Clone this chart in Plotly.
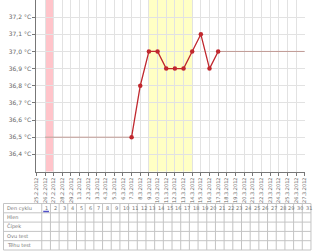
import plotly.graph_objects as go
from datetime import date, timedelta

# ---- data ----
start = date(2012, 2, 25)
date_labels = [f"{(start + timedelta(days=i)).day}.{(start + timedelta(days=i)).month}.2012" for i in range(32)]
day_index = list(range(32))

temp_days = [11, 12, 13, 14, 15, 16, 17, 18, 19, 20, 21]
temps = [36.5, 36.8, 37.0, 37.0, 36.9, 36.9, 36.9, 37.0, 37.1, 36.9, 37.0]

before_days = [1, 11]
before_temp = [36.5, 36.5]
after_days = [21, 31]
after_temp = [37.0, 37.0]

menses_span = [1, 2]
fertile_span = [13, 18]

ytick_vals = [36.4, 36.5, 36.6, 36.7, 36.8, 36.9, 37.0, 37.1, 37.2]
ytick_text = [f"{v:.1f}".replace(".", ",") + " °C" for v in ytick_vals]

row_labels = ["Den cyklu", "Hlen", "Čípek", "Ovu test", "Těhu test"]
cycle_days = [str(i) for i in range(1, 32)]

# ---- figure ----
W, H = 320, 251
fig = go.Figure()

line_col = "#c0282e"
flat_col = "#c09a94"

fig.add_trace(go.Scatter(x=before_days, y=before_temp, mode="lines",
                         line=dict(color=flat_col, width=1), hoverinfo="skip"))
fig.add_trace(go.Scatter(x=after_days, y=after_temp, mode="lines",
                         line=dict(color=flat_col, width=1), hoverinfo="skip"))
fig.add_trace(go.Scatter(x=temp_days, y=temps, mode="lines+markers",
                         line=dict(color=line_col, width=1.3),
                         marker=dict(color=line_col, size=4.5)))

plot_bottom_px = 171.5
ydom0 = (H - plot_bottom_px) / H

shapes = [
    dict(type="rect", xref="x", yref="paper", x0=menses_span[0], x1=menses_span[1], y0=ydom0, y1=1,
         fillcolor="#ffc4ca", line=dict(width=0), layer="below"),
    dict(type="rect", xref="x", yref="paper", x0=fertile_span[0], x1=fertile_span[1], y0=ydom0, y1=1,
         fillcolor="#ffffc4", line=dict(width=0), layer="below"),
]
annotations = []

# ---- table drawn as a grid ----
label_w = 39.5
col_w = 8.85
tbl_left = 0.5
tbl_top = 203.5
n_rows = len(row_labels)
row_h = 9.3
tbl_right = label_w + len(cycle_days) * col_w
grid_col = "#c4c4c4"

def px(xp):
    return xp / W

def py(yp):
    return (H - yp) / H

for k in range(n_rows + 1):
    yy = tbl_top + k * row_h
    shapes.append(dict(type="line", xref="paper", yref="paper", x0=px(tbl_left), x1=px(tbl_right),
                       y0=py(yy), y1=py(yy), line=dict(color=grid_col, width=1)))
vx = [tbl_left] + [label_w + j * col_w for j in range(len(cycle_days) + 1)]
for xx in vx:
    shapes.append(dict(type="line", xref="paper", yref="paper", x0=px(xx), x1=px(xx),
                       y0=py(tbl_top), y1=py(tbl_top + n_rows * row_h), line=dict(color=grid_col, width=1)))

txt_font = dict(size=5, color="#777", family="DejaVu Sans")
for r, lab in enumerate(row_labels):
    annotations.append(dict(xref="paper", yref="paper", x=px(tbl_left + 2), y=py(tbl_top + (r + 0.5) * row_h),
                            text=lab, showarrow=False, xanchor="left", yanchor="middle", font=txt_font))
for j, d in enumerate(cycle_days):
    annotations.append(dict(xref="paper", yref="paper", x=px(label_w + j * col_w + 1.5),
                            y=py(tbl_top + 0.5 * row_h), text=d, showarrow=False,
                            xanchor="left", yanchor="middle", font=txt_font))

# current-day marker under day 1
shapes.append(dict(type="line", xref="paper", yref="paper",
                   x0=px(label_w + 1.5), x1=px(label_w + col_w - 1.5),
                   y0=py(tbl_top + row_h - 1.3), y1=py(tbl_top + row_h - 1.3),
                   line=dict(color="#5050c8", width=1.5)))

fig.update_layout(
    width=W, height=H, margin=dict(l=0, r=0, t=0, b=0),
    paper_bgcolor="white", plot_bgcolor="white", showlegend=False,
    shapes=shapes, annotations=annotations,
    xaxis=dict(domain=[34 / W, 307.5 / W], range=[0, 31], tickmode="array",
               tickvals=day_index, ticktext=date_labels, tickangle=-90,
               tickfont=dict(size=5, color="#666", family="DejaVu Sans"),
               showgrid=True, gridcolor="#e2e2e2", gridwidth=1,
               showline=True, linecolor="#777", linewidth=1,
               ticks="outside", ticklen=3, tickcolor="#777", zeroline=False,
               fixedrange=True),
    yaxis=dict(domain=[ydom0, 1], range=[36.3, 37.3], tickmode="array",
               tickvals=ytick_vals, ticktext=ytick_text,
               tickfont=dict(size=6, color="#666", family="DejaVu Sans"),
               showgrid=True, gridcolor="#e2e2e2", gridwidth=1,
               showline=True, linecolor="#777", linewidth=1,
               ticks="outside", ticklen=3, tickcolor="#777", zeroline=False,
               fixedrange=True),
)

fig.write_html("out.html", config={"displayModeBar": False})
